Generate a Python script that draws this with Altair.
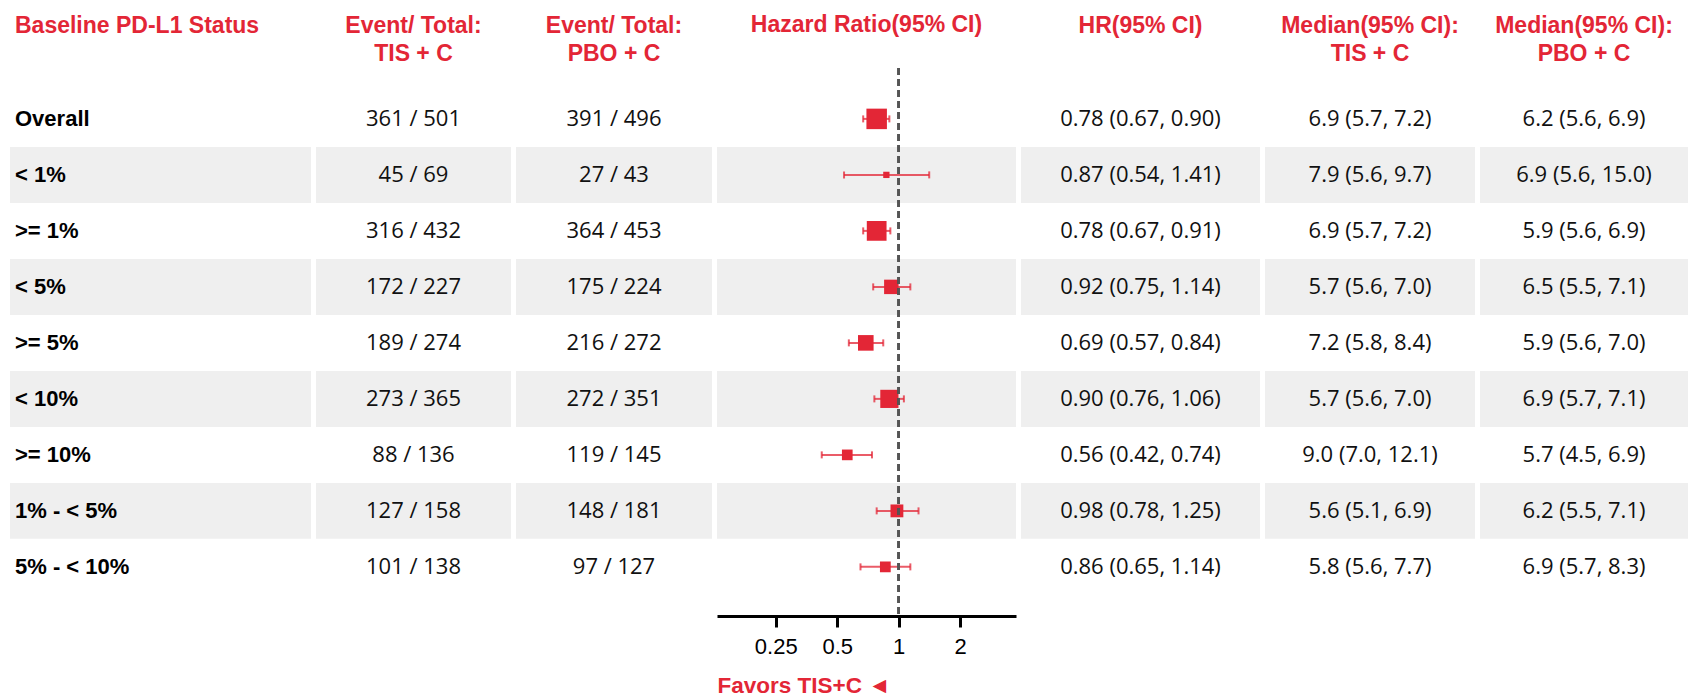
import altair as alt
import numpy as np
import pandas as pd

# ---------------- data ----------------
labels = ["Overall", "< 1%", ">= 1%", "< 5%", ">= 5%", "< 10%", ">= 10%", "1% - < 5%", "5% - < 10%"]
tis_events = ["361 / 501", "45 / 69", "316 / 432", "172 / 227", "189 / 274", "273 / 365", "88 / 136", "127 / 158", "101 / 138"]
pbo_events = ["391 / 496", "27 / 43", "364 / 453", "175 / 224", "216 / 272", "272 / 351", "119 / 145", "148 / 181", "97 / 127"]
hr = [0.78, 0.87, 0.78, 0.92, 0.69, 0.90, 0.56, 0.98, 0.86]
hr_lo = [0.67, 0.54, 0.67, 0.75, 0.57, 0.76, 0.42, 0.78, 0.65]
hr_hi = [0.90, 1.41, 0.91, 1.14, 0.84, 1.06, 0.74, 1.25, 1.14]
med_tis = ["6.9 (5.7, 7.2)", "7.9 (5.6, 9.7)", "6.9 (5.7, 7.2)", "5.7 (5.6, 7.0)", "7.2 (5.8, 8.4)",
           "5.7 (5.6, 7.0)", "9.0 (7.0, 12.1)", "5.6 (5.1, 6.9)", "5.8 (5.6, 7.7)"]
med_pbo = ["6.2 (5.6, 6.9)", "6.9 (5.6, 15.0)", "5.9 (5.6, 6.9)", "6.5 (5.5, 7.1)", "5.9 (5.6, 7.0)",
           "6.9 (5.7, 7.1)", "5.7 (4.5, 6.9)", "6.2 (5.5, 7.1)", "6.9 (5.7, 8.3)"]
tick_values = [0.25, 0.5, 1, 2]

df = pd.DataFrame({
    "label": labels,
    "tis": tis_events,
    "pbo": pbo_events,
    "hr": hr,
    "lo": hr_lo,
    "hi": hr_hi,
    "med_tis": med_tis,
    "med_pbo": med_pbo,
})
df["hr_text"] = [f"{h:.2f} ({l:.2f}, {u:.2f})" for h, l, u in zip(hr, hr_lo, hr_hi)]
df["shade"] = [i % 2 == 1 for i in range(len(labels))]
se = (np.log(df["hi"]) - np.log(df["lo"])) / 3.92
df["weight"] = 1.0 / se ** 2
wmax = float(df["weight"].max())

# ---------------- styling ----------------
RED = "#E32636"
STRIPE = "#EFEFEF"
HEAD_FONT = "Liberation Sans"
VAL_FONT = "Open Sans"
H = 548
SPACING = 5

yscale = alt.Scale(domain=labels, paddingInner=0, paddingOuter=0.393, align=0.52)
Y = alt.Y("label:N", scale=yscale, axis=None)

base = alt.Chart(df)


def title(lines, anchor="middle", dx=0):
    return alt.TitleParams(text=lines, anchor=anchor, frame="group", font=HEAD_FONT,
                           fontSize=23, fontWeight="bold", color=RED, lineHeight=28,
                           offset=-21, baseline="bottom", dx=dx)


def stripes():
    return base.transform_filter("datum.shade").mark_rect(color=STRIPE).encode(y=Y)


def text_col(field, w, lines):
    txt = base.mark_text(font=VAL_FONT, fontSize=22, color="#111111", align="center",
                         baseline="middle").encode(y=Y, text=f"{field}:N")
    return alt.layer(stripes(), txt).properties(width=w, height=H, title=title(lines))


# label column
lab_txt = base.mark_text(font=HEAD_FONT, fontSize=22, fontWeight="bold", color="#000000",
                         align="left", baseline="middle", dx=5).encode(
    x=alt.value(0), y=Y, text="label:N")
col1 = alt.layer(stripes(), lab_txt).properties(
    width=301, height=H, title=title(["Baseline PD-L1 Status", " "], anchor="start", dx=5))

col2 = text_col("tis", 195, ["Event/ Total:", "TIS + C"])
col3 = text_col("pbo", 196, ["Event/ Total:", "PBO + C"])

# forest plot
xscale = alt.Scale(type="log", base=2, domain=[0.129, 3.75], nice=False)
xaxis = alt.Axis(values=tick_values, format="~g", grid=False, title="Favors TIS+C \u25C4",
                 domainColor="#000000", domainWidth=3, tickColor="#000000", tickWidth=3,
                 tickSize=11, labelFont=HEAD_FONT, labelFontSize=22, labelColor="#000000",
                 labelPadding=9, titleFont=HEAD_FONT, titleFontSize=22.5, titleFontWeight="bold",
                 titleColor=RED, titleAnchor="start", titleAlign="left", titlePadding=17)

ci = base.mark_rule(color=RED, opacity=0.75, strokeWidth=2).encode(
    x=alt.X("lo:Q", scale=xscale, axis=xaxis), x2="hi:Q", y=Y)
caps = base.transform_fold(["lo", "hi"], as_=["end", "value"]).mark_tick(
    color=RED, opacity=0.75, orient="vertical", size=7, thickness=2).encode(
    x=alt.X("value:Q", scale=xscale, axis=xaxis), y=Y)
sq = base.mark_square(color=RED, opacity=1).encode(
    x=alt.X("hr:Q", scale=xscale, axis=xaxis), y=Y,
    size=alt.Size("weight:Q", scale=alt.Scale(domain=[0, wmax], range=[0, 420]), legend=None))
ref = alt.Chart(df).mark_rule(color="#555555", strokeWidth=2, strokeDash=[7, 4]).encode(
    x=alt.datum(1, type="quantitative", scale=xscale, axis=xaxis))

forest = alt.layer(stripes(), ci, caps, sq, ref).properties(
    width=299, height=H, title=title(["Hazard Ratio(95% CI)", " "]))

col5 = text_col("hr_text", 239, ["HR(95% CI)", " "])
col6 = text_col("med_tis", 210, ["Median(95% CI):", "TIS + C"])
col7 = text_col("med_pbo", 208, ["Median(95% CI):", "PBO + C"])

chart = alt.hconcat(col1, col2, col3, forest, col5, col6, col7, spacing=SPACING, bounds="flush").properties(
    padding={"left": 10, "top": 14, "right": 0, "bottom": 6},
    background="#FFFFFF",
).configure_view(stroke=None)

chart.save("out.html", embed_options={"renderer": "svg", "actions": False})
